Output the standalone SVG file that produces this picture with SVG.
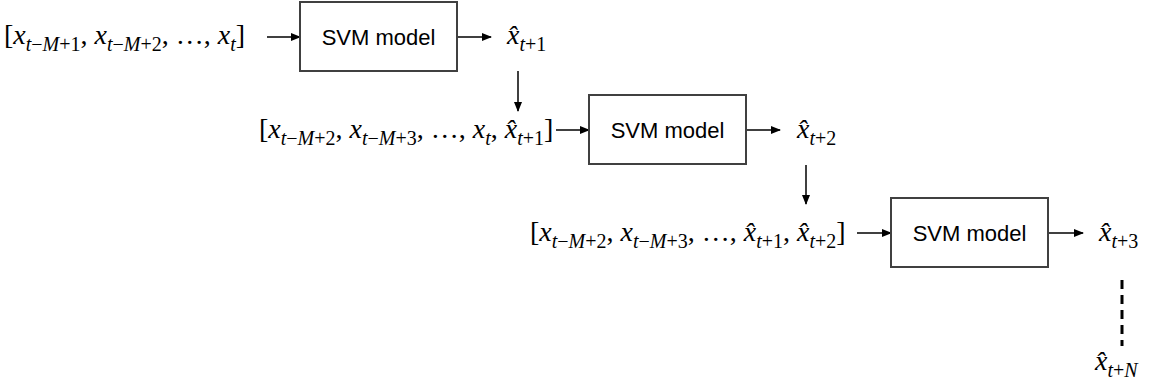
<svg xmlns="http://www.w3.org/2000/svg" width="1149" height="390" viewBox="0 0 1149 390">
<defs>
<marker id="ah" markerWidth="10" markerHeight="8" refX="9" refY="4" orient="auto" markerUnits="userSpaceOnUse">
<path d="M0,0 L10,4 L0,8 Z" fill="#000"/>
</marker>
<style>
.box{fill:#fff;stroke:#404040;stroke-width:2}
.lbl{font-family:"Liberation Sans",Arial,sans-serif;font-size:22px;fill:#000;text-anchor:middle}
.m{font-family:"Liberation Serif","Times New Roman",serif;font-size:28px;fill:#000}
.i{font-style:italic}
.s{font-size:20px}
.conn{stroke:#000;stroke-width:1.5;fill:none}
.dash{stroke:#000;stroke-width:3;stroke-dasharray:9 6;fill:none}
</style>
</defs>
<g id="connectors">
<line class="conn" x1="267" y1="37" x2="300" y2="37" marker-end="url(#ah)"/>
<line class="conn" x1="457" y1="37" x2="491" y2="37" marker-end="url(#ah)"/>
<line class="conn" x1="518" y1="71" x2="518" y2="111" marker-end="url(#ah)"/>
<line class="conn" x1="556" y1="130" x2="589" y2="130" marker-end="url(#ah)"/>
<line class="conn" x1="746" y1="130" x2="780" y2="130" marker-end="url(#ah)"/>
<line class="conn" x1="806" y1="165" x2="806" y2="204" marker-end="url(#ah)"/>
<line class="conn" x1="857" y1="233" x2="891" y2="233" marker-end="url(#ah)"/>
<line class="conn" x1="1048" y1="233" x2="1083" y2="233" marker-end="url(#ah)"/>
<line class="dash" x1="1122" y1="280" x2="1122" y2="346"/>
</g>
<g id="input1">
<text class="m" x="4" y="44">[<tspan class="i">x</tspan><tspan class="i s" dy="7">t</tspan><tspan class="s">−</tspan><tspan class="i s">M</tspan><tspan class="s">+1</tspan><tspan dy="-7">, </tspan><tspan class="i">x</tspan><tspan class="i s" dy="7">t</tspan><tspan class="s">−</tspan><tspan class="i s">M</tspan><tspan class="s">+2</tspan><tspan dy="-7">, …, </tspan><tspan class="i">x</tspan><tspan class="i s" dy="7">t</tspan><tspan dy="-7">]</tspan></text>
</g>
<g id="svm1">
<rect class="box" x="300" y="2" width="157" height="69"/>
<text class="lbl" x="378.5" y="45">SVM model</text>
</g>
<g id="out1">
<text class="m" x="507" y="44"><tspan class="i">x̂</tspan><tspan class="i s" dy="7">t</tspan><tspan class="s">+1</tspan></text>
</g>
<g id="input2">
<text class="m" x="259" y="138">[<tspan class="i">x</tspan><tspan class="i s" dy="7">t</tspan><tspan class="s">−</tspan><tspan class="i s">M</tspan><tspan class="s">+2</tspan><tspan dy="-7">, </tspan><tspan class="i">x</tspan><tspan class="i s" dy="7">t</tspan><tspan class="s">−</tspan><tspan class="i s">M</tspan><tspan class="s">+3</tspan><tspan dy="-7">, …, </tspan><tspan class="i">x</tspan><tspan class="i s" dy="7">t</tspan><tspan dy="-7">, </tspan><tspan class="i">x̂</tspan><tspan class="i s" dy="7">t</tspan><tspan class="s">+1</tspan><tspan dy="-7">]</tspan></text>
</g>
<g id="svm2">
<rect class="box" x="589" y="95" width="157" height="69"/>
<text class="lbl" x="667.5" y="138">SVM model</text>
</g>
<g id="out2">
<text class="m" x="797" y="138"><tspan class="i">x̂</tspan><tspan class="i s" dy="7">t</tspan><tspan class="s">+2</tspan></text>
</g>
<g id="input3">
<text class="m" x="530" y="241">[<tspan class="i">x</tspan><tspan class="i s" dy="7">t</tspan><tspan class="s">−</tspan><tspan class="i s">M</tspan><tspan class="s">+2</tspan><tspan dy="-7">, </tspan><tspan class="i">x</tspan><tspan class="i s" dy="7">t</tspan><tspan class="s">−</tspan><tspan class="i s">M</tspan><tspan class="s">+3</tspan><tspan dy="-7">, …, </tspan><tspan class="i">x̂</tspan><tspan class="i s" dy="7">t</tspan><tspan class="s">+1</tspan><tspan dy="-7">, </tspan><tspan class="i">x̂</tspan><tspan class="i s" dy="7">t</tspan><tspan class="s">+2</tspan><tspan dy="-7">]</tspan></text>
</g>
<g id="svm3">
<rect class="box" x="891" y="198" width="157" height="69"/>
<text class="lbl" x="969.5" y="241">SVM model</text>
</g>
<g id="out3">
<text class="m" x="1099" y="241"><tspan class="i">x̂</tspan><tspan class="i s" dy="7">t</tspan><tspan class="s">+3</tspan></text>
</g>
<g id="outN">
<text class="m" x="1095" y="370"><tspan class="i">x̂</tspan><tspan class="i s" dy="7">t</tspan><tspan class="s">+</tspan><tspan class="i s">N</tspan></text>
</g>
</svg>
